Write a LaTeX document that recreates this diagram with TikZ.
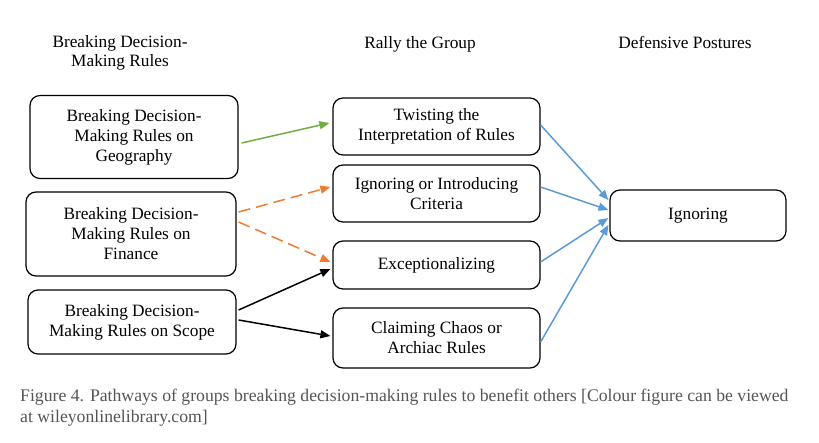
\documentclass[tikz,border=0pt]{standalone}
\usepackage{fontspec}
\setmainfont{Liberation Serif}
\usetikzlibrary{arrows.meta,calc}
\definecolor{cgreen}{HTML}{70AD47}
\definecolor{corange}{HTML}{ED7D31}
\definecolor{cblue}{HTML}{5B9BD5}
\definecolor{capgray}{HTML}{555555}
\tikzset{
  box/.style={draw=black, line width=1.2pt, rounded corners=10pt, align=center, inner sep=0pt,
    font=\fontsize{17.3}{20}\selectfont},
  head/.style={align=center, font=\fontsize{17.3}{19}\selectfont},
  conn/.style={line width=1.5pt, -{Triangle[length=10pt,width=8pt]}},
}
\begin{document}
\begin{tikzpicture}[x=1pt,y=-1pt]
\useasboundingbox (0,0) rectangle (819,443);
% headers
\node[head] (h1) at (120,53) {Breaking Decision-\\Making Rules};
\node[head] (h2) at (420,44) {Rally the Group};
\node[head] (h3) at (685,42) {Defensive Postures};
% left
\node[box, minimum width=208pt, minimum height=83pt] (L1) at (134,137) {Breaking Decision-\\Making Rules on\\Geography};
\node[box, minimum width=210pt, minimum height=84pt] (L2) at (131,234) {Breaking Decision-\\Making Rules on\\Finance};
\node[box, minimum width=208pt, minimum height=64pt] (L3) at (132,322) {Breaking Decision-\\Making Rules on Scope};
% middle
\node[box, minimum width=207pt, minimum height=57pt] (M1) at (436.5,126.5) {Twisting the\\Interpretation of Rules};
\node[box, minimum width=207pt, minimum height=57pt] (M2) at (436.5,193.5) {Ignoring or Introducing\\Criteria};
\node[box, minimum width=207pt, minimum height=48pt] (M3) at (436.5,265) {Exceptionalizing};
\node[box, minimum width=207pt, minimum height=60pt] (M4) at (436.5,338) {Claiming Chaos or\\Archiac Rules};
% right
\node[box, minimum width=176pt, minimum height=51pt] (R) at (698,215.5) {Ignoring};
% connectors
\draw[conn, cgreen] ([shift={(3,6)}]L1.east) -- ([shift={(-3,-3.5)}]M1.west);
\draw[conn, corange, dash pattern=on 12pt off 6pt] ([shift={(2,-22)}]L2.east) -- ([shift={(-2,-6.5)}]M2.west);
\draw[conn, corange, dash pattern=on 12pt off 6pt] ([shift={(2,-12)}]L2.east) -- ([shift={(-2,-3)}]M3.west);
\draw[conn, black] ([shift={(2,-12)}]L3.east) -- ([shift={(-2,4)}]M3.west);
\draw[conn, black] ([shift={(2,-2)}]L3.east) -- ([shift={(-2,-2)}]M4.west);
\draw[conn, cblue] ([shift={(0,-1.5)}]M1.east) -- ([shift={(-1,-15.5)}]R.west);
\draw[conn, cblue] ([shift={(0,-6.5)}]M2.east) -- ([shift={(-1,-5.5)}]R.west);
\draw[conn, cblue] ([shift={(0,-3)}]M3.east) -- ([shift={(-1,2.5)}]R.west);
\draw[conn, cblue] ([shift={(0,4)}]M4.east) -- ([shift={(-1,9.5)}]R.west);
% caption
\node[anchor=north west, align=left, text=capgray, inner sep=0pt,
  font=\fontsize{17.7}{21}\selectfont] (cap) at (20,389)
  {Figure 4. Pathways of groups breaking decision-making rules to benefit others [Colour figure can be viewed\\at wileyonlinelibrary.com]};
\end{tikzpicture}
\end{document}
